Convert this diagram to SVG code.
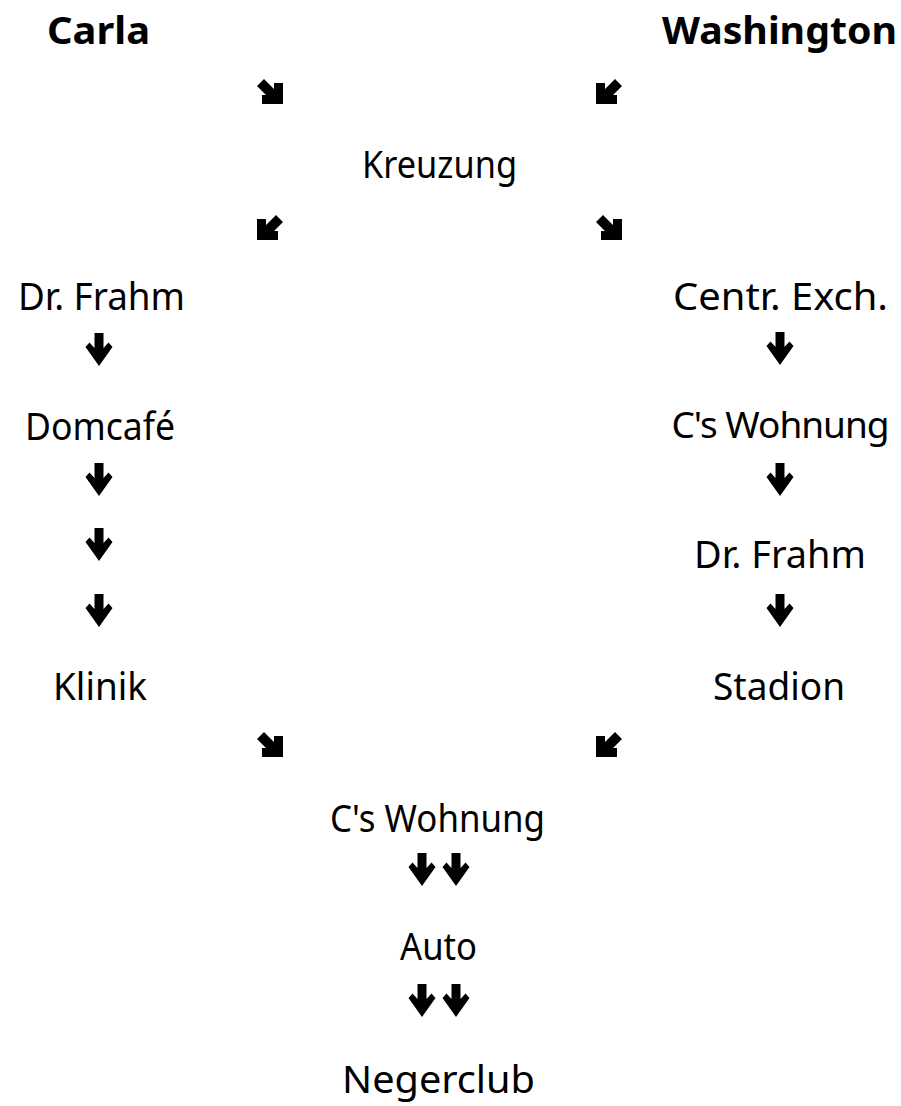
<svg xmlns="http://www.w3.org/2000/svg" width="901" height="1106" viewBox="0 0 901 1106">
  <style>
    text { font-family: "Comic Sans MS", "Noto Sans", "DejaVu Sans", sans-serif; fill: #000; text-anchor: middle; }
    .lbl { font-size: 38px; }
    .tight { font-size: 37px; letter-spacing: -1px; }
    .head { font-size: 38px; font-weight: bold; }
    .arr { fill: #000; }
  </style>
  <defs>
    <!-- bold down arrow, centred on its origin -->
    <path id="down" d="M-4.5,-17 L4.5,-17 L4.5,-2 L9.5,-7.5 L13.5,-3 L0,16 L-13.5,-3 L-9.5,-7.5 L-4.5,-2 Z"/>
    <!-- bold diagonal arrow pointing down-right, centred on its origin -->
    <path id="dr" d="M-13,-6 L-6,-13 L4,-3 L4,-9 L13,-9 L13,12 L-8,12 L-8,3 L-4,3 Z"/>
  </defs>
  <rect width="901" height="1106" fill="#fff"/>

  <g id="carla"><text class="head" x="98.5" y="44" textLength="103" lengthAdjust="spacingAndGlyphs">Carla</text></g>
  <g id="washington"><text class="head" x="779.5" y="44" textLength="235" lengthAdjust="spacingAndGlyphs">Washington</text></g>
  <g id="kreuzung"><text class="lbl" x="439.5" y="178" textLength="155" lengthAdjust="spacingAndGlyphs">Kreuzung</text></g>

  <g id="dr-frahm-c"><text class="lbl" x="101.5" y="310" textLength="167" lengthAdjust="spacingAndGlyphs">Dr. Frahm</text></g>
  <g id="domcafe"><text class="lbl" x="100" y="440" textLength="150" lengthAdjust="spacingAndGlyphs">Domcafé</text></g>
  <g id="klinik"><text class="lbl" x="100" y="700" textLength="94" lengthAdjust="spacingAndGlyphs">Klinik</text></g>

  <g id="central-exchange"><text class="lbl" x="780.5" y="310" textLength="215" lengthAdjust="spacingAndGlyphs">Centr. Exch.</text></g>
  <g id="c-wohnung-w"><text class="tight" x="780" y="438">C's Wohnung</text></g>
  <g id="dr-frahm-w"><text class="lbl" x="780" y="568" textLength="172" lengthAdjust="spacingAndGlyphs">Dr. Frahm</text></g>
  <g id="stadion"><text class="lbl" x="779" y="700" textLength="132" lengthAdjust="spacingAndGlyphs">Stadion</text></g>

  <g id="c-wohnung"><text class="lbl" x="437.5" y="832" textLength="215" lengthAdjust="spacingAndGlyphs">C's Wohnung</text></g>
  <g id="auto"><text class="lbl" x="438.5" y="960" textLength="77" lengthAdjust="spacingAndGlyphs">Auto</text></g>
  <g id="negerclub"><text class="lbl" x="438.5" y="1093" textLength="193" lengthAdjust="spacingAndGlyphs">Negerclub</text></g>

  <g id="connectors" class="arr">
    <!-- converging on the crossing -->
    <use href="#dr" transform="translate(270,92)"/>
    <use href="#dr" transform="translate(609,92) scale(-1,1)"/>
    <!-- splitting from the crossing -->
    <use href="#dr" transform="translate(270,228) scale(-1,1)"/>
    <use href="#dr" transform="translate(609,228)"/>
    <!-- left column -->
    <use href="#down" transform="translate(99,350)"/>
    <use href="#down" transform="translate(99,480)"/>
    <use href="#down" transform="translate(99,545)"/>
    <use href="#down" transform="translate(99,611)"/>
    <!-- right column -->
    <use href="#down" transform="translate(780,349)"/>
    <use href="#down" transform="translate(780,480)"/>
    <use href="#down" transform="translate(780,611)"/>
    <!-- converging on C's Wohnung -->
    <use href="#dr" transform="translate(270,745)"/>
    <use href="#dr" transform="translate(609,745) scale(-1,1)"/>
    <!-- joint path -->
    <use href="#down" transform="translate(422,870)"/>
    <use href="#down" transform="translate(456,870)"/>
    <use href="#down" transform="translate(422,1001)"/>
    <use href="#down" transform="translate(456,1001)"/>
  </g>
</svg>
